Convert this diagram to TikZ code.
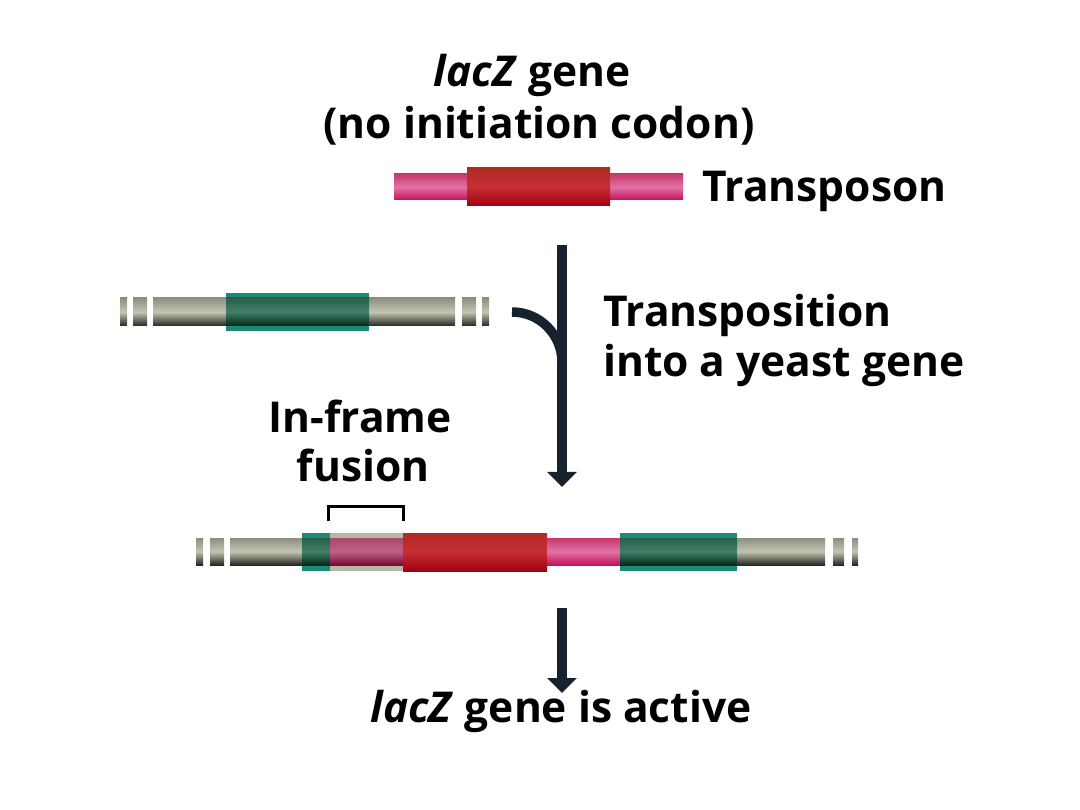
\documentclass[tikz,border=0pt]{standalone}
\usepackage{fontspec}
\setmainfont{Open Sans}
\usepackage{tikz}
\usetikzlibrary{arrows.meta}
\definecolor{arrowink}{HTML}{18222F}
\definecolor{tealrim}{HTML}{1D8A78}
\definecolor{grayhi}{HTML}{C4C4B4}
\definecolor{graytop}{HTML}{8E8E80}
\definecolor{graylow}{HTML}{26261E}
\definecolor{pinktop}{HTML}{C8386A}
\definecolor{pinkhi}{HTML}{E074A6}
\definecolor{pinklow}{HTML}{C4105A}
\definecolor{redtop}{HTML}{B02A22}
\definecolor{redhi}{HTML}{C62E36}
\definecolor{redlow}{HTML}{A00010}
\definecolor{greentop}{HTML}{2A6048}
\definecolor{greenhi}{HTML}{40806A}
\definecolor{greenlow}{HTML}{052618}
\definecolor{fusegray}{HTML}{B8B8A8}
\definecolor{mauvetop}{HTML}{A84A6A}
\definecolor{mauvehi}{HTML}{C06088}
\definecolor{mauvelow}{HTML}{7A0A38}

\begin{document}
\begin{tikzpicture}[
  x=1pt, y=-1pt,
  every node/.style={font=\fontsize{42.5}{50}\selectfont\bfseries, inner sep=0pt},
  genebar/.style={top color=graytop, bottom color=graylow, middle color=grayhi},
  tnbar/.style={top color=pinktop, bottom color=pinklow, middle color=pinkhi},
  lacbox/.style={top color=redtop, bottom color=redlow, middle color=redhi},
  yeastbox/.style={fill=tealrim},
  yeastcore/.style={top color=greentop, bottom color=greenlow, middle color=greenhi},
  fusebox/.style={fill=fusegray},
  fusecore/.style={top color=mauvetop, bottom color=mauvelow, middle color=mauvehi},
  flow/.style={draw=arrowink, line width=9.5pt, -{Triangle[width=29pt, length=15pt]}},
  flowline/.style={draw=arrowink, line width=9.5pt},
  bracket/.style={draw=black, line width=3pt}
]
  \useasboundingbox (0,0) rectangle (1080,810);

  % Titel oben
  \node[anchor=base] (laczgene) at (532,87) {\textit{lacZ} gene};
  \node[anchor=base] (nocodon) at (539,139) {(no initiation codon)};

  % Transposon
  \shade[tnbar] (394,174) rectangle (683,200);
  \shade[lacbox] (467,168) rectangle (610,206);
  \node[anchor=base west] (transposon) at (702,202) {Transposon};

  % Hefegen
  \shade[genebar] (120,298) rectangle (127,326);
  \shade[genebar] (133,298) rectangle (147,326);
  \shade[genebar] (153,298) rectangle (455,326);
  \shade[genebar] (462,298) rectangle (476,326);
  \shade[genebar] (482,298) rectangle (489,326);
  \fill[yeastbox] (226,293) rectangle (369,331);
  \shade[yeastcore] (226,298) rectangle (369,326);

  % Pfeile
  \coordinate (flowtop) at (562,245);
  \coordinate (flowend) at (562,487);
  \coordinate (hookstart) at (512,312);
  \coordinate (hookend) at (562,362);
  \draw[flow] (flowtop) -- (flowend);
  \draw[flowline] (hookstart) .. controls (540,312) and (562,335) .. (hookend);

  \node[anchor=base west] (transp) at (603,327) {Transposition};
  \node[anchor=base west] (intoyeast) at (603,377) {into a yeast gene};

  % Fusion
  \node[anchor=base] (inframe) at (360,433) {In-frame};
  \node[anchor=base] (fusion) at (363,482) {fusion};
  \draw[bracket] (328,521) -- (328,506) -- (403,506) -- (403,521);

  % Fusionsgen
  \shade[genebar] (196,538) rectangle (203,565);
  \shade[genebar] (210,538) rectangle (224,565);
  \shade[genebar] (230,538) rectangle (825,565);
  \shade[genebar] (833,538) rectangle (844,565);
  \shade[genebar] (852,538) rectangle (858,565);
  \fill[yeastbox] (302,533) rectangle (330,571);
  \shade[yeastcore] (302,538) rectangle (330,565);
  \fill[fusebox] (330,533) rectangle (403,571);
  \shade[fusecore] (330,538) rectangle (403,565);
  \shade[lacbox] (403,533) rectangle (547,571);
  \shade[tnbar] (547,538) rectangle (620,565);
  \fill[yeastbox] (620,533) rectangle (737,571);
  \shade[yeastcore] (620,538) rectangle (737,565);

  \coordinate (actop) at (562,608);
  \coordinate (acend) at (562,693);
  \draw[flow] (actop) -- (acend);

  \node[anchor=base] (active) at (561,722) {\textit{lacZ} gene is active};
\end{tikzpicture}
\end{document}
